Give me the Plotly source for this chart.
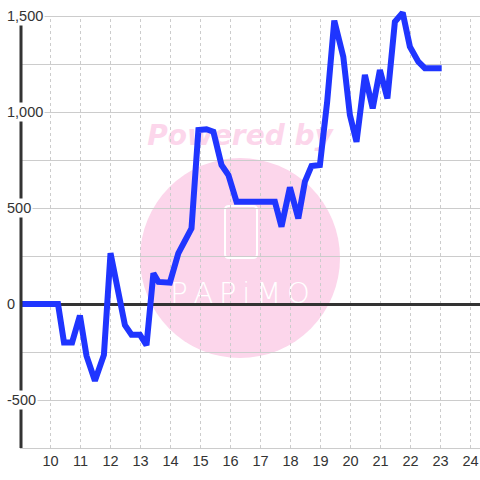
import plotly.graph_objects as go

# data
x_vals = [9.0, 10.25, 10.45, 10.72, 10.98, 11.2, 11.48, 11.78, 12.0, 12.22, 12.48, 12.7, 12.98,
          13.2, 13.43, 13.6, 13.98, 14.26, 14.7, 14.93, 15.2, 15.43, 15.7, 15.93, 16.2, 17.48,
          17.7, 17.98, 18.26, 18.48, 18.7, 18.98, 19.22, 19.46, 19.76, 19.98, 20.2, 20.48,
          20.74, 20.98, 21.23, 21.48, 21.74, 21.98, 22.26, 22.48, 23.04]
y_vals = [0, 0, -200, -200, -60, -270, -400, -265, 265, 100, -110, -160, -160,
          -215, 160, 115, 111, 264, 394, 906, 910, 897, 724, 672, 533, 533,
          403, 608, 446, 637, 719, 724, 1050, 1476, 1288, 984, 845, 1193,
          1019, 1219, 1071, 1470, 1517, 1340, 1262, 1228, 1228]

x_ticks = list(range(10, 25))
y_grid = [-750, -500, -250, 0, 250, 500, 750, 1000, 1250, 1500]
y_label_vals = [-500, 0, 500, 1000, 1500]
y_label_text = ["-500", "0", "500", "1,000", "1,500"]

Y_MIN, Y_MAX, Y_TOP = -750, 1500, 1562.5

W, H = 480, 480
ML, MR, MT, MB = 20, 0, 4, 32
PW, PH = W - ML - MR, H - MT - MB


def px(xp):
    return (xp - ML) / PW


def py(yp):
    return (H - MB - yp) / PH


FONT = "Liberation Sans, Arial, sans-serif"
PINK = "#fcd6eb"
GRID = "#cccccc"

fig = go.Figure()
fig.add_trace(go.Scatter(x=x_vals, y=y_vals, mode="lines",
                         line=dict(color="#1f35ff", width=6),
                         hoverinfo="skip", showlegend=False))

shapes = [
    # watermark circle
    dict(type="circle", xref="paper", yref="paper", layer="below",
         x0=px(140), x1=px(340), y0=py(358), y1=py(158),
         fillcolor=PINK, line=dict(width=0)),
    # rounded rectangle icon
    dict(type="path", xref="paper", yref="paper", layer="below",
         path=(f"M {px(229)} {py(206)} L {px(253)} {py(206)} "
               f"Q {px(257)} {py(206)} {px(257)} {py(210)} "
               f"L {px(257)} {py(254)} Q {px(257)} {py(258)} {px(253)} {py(258)} "
               f"L {px(229)} {py(258)} Q {px(225)} {py(258)} {px(225)} {py(254)} "
               f"L {px(225)} {py(210)} Q {px(225)} {py(206)} {px(229)} {py(206)} Z"),
         line=dict(color="white", width=2), fillcolor="rgba(0,0,0,0)"),
    # "Powered by" text
    dict(type="rect", xref="paper", yref="paper", layer="below",
         x0=px(130), x1=px(350), y0=py(150), y1=py(116),
         line=dict(width=0), fillcolor="rgba(0,0,0,0)",
         label=dict(text="<b><i>Powered by</i></b>", textposition="middle center",
                    font=dict(family="DejaVu Sans, sans-serif", size=28, color=PINK))),
    # "PAPiMO" text
    dict(type="rect", xref="paper", yref="paper", layer="below",
         x0=px(160), x1=px(320), y0=py(309), y1=py(273),
         line=dict(width=0), fillcolor="rgba(0,0,0,0)",
         label=dict(text="P\u2009A\u2009P\u2009i\u2009M\u2009O", textposition="middle center",
                    font=dict(family="DejaVu Sans, sans-serif", size=29,
                              color="white", weight=300))),
]

# vertical dotted grid lines, from the bottom to the 1,500 line
for t in x_ticks:
    shapes.append(dict(type="line", xref="x", yref="y", layer="below",
                       x0=t, x1=t, y0=Y_MIN, y1=Y_MAX,
                       line=dict(color=GRID, width=1, dash="dot")))
# dark y axis line
shapes.append(dict(type="line", xref="paper", yref="y", layer="above",
                   x0=px(21), x1=px(21), y0=Y_MIN, y1=Y_MAX,
                   line=dict(color="#333333", width=3)))

annotations = []
for v, t in zip(y_label_vals, y_label_text):
    annotations.append(dict(x=px(5), xref="paper", y=v, yref="y", text=t,
                            showarrow=False, xanchor="left", yanchor="middle",
                            bgcolor="white", borderpad=1,
                            font=dict(family=FONT, size=14.5, color="#333")))

fig.update_layout(
    width=W, height=H,
    margin=dict(l=ML, r=MR, t=MT, b=MB),
    paper_bgcolor="white", plot_bgcolor="rgba(0,0,0,0)",
    shapes=shapes, annotations=annotations,
    showlegend=False,
    xaxis=dict(range=[8.983, 24.317], tickvals=x_ticks, ticktext=[str(v) for v in x_ticks],
               showgrid=False,
               showline=True, linecolor=GRID, linewidth=1,
               zeroline=False, ticks="",
               tickfont=dict(family=FONT, size=14.5, color="#333")),
    yaxis=dict(range=[Y_MIN, Y_TOP], tickvals=y_grid, showticklabels=False,
               showgrid=True, gridcolor=GRID, gridwidth=1,
               showline=False,
               zeroline=True, zerolinecolor="#333333", zerolinewidth=3,
               ticks=""),
)

fig.write_html("out.html", config={"displayModeBar": False},
               post_script="document.body.style.margin='0';")
